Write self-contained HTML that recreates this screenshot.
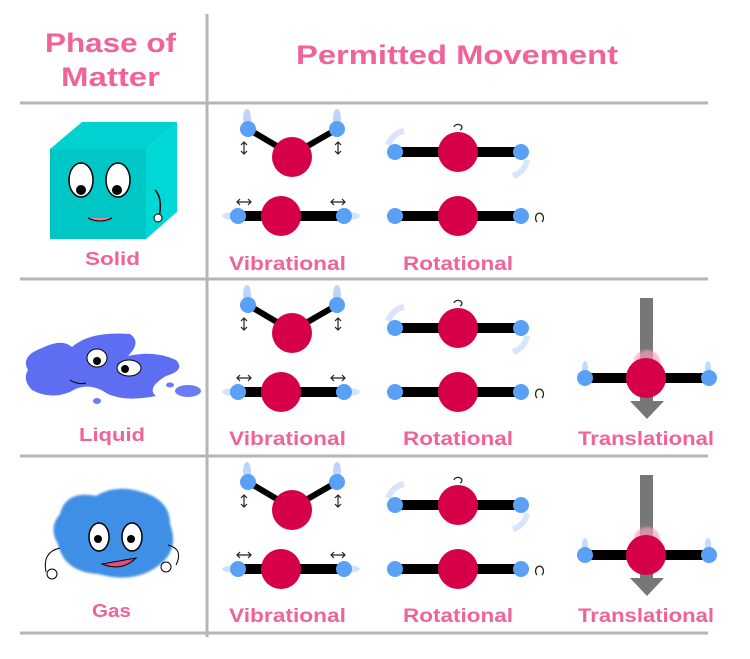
<!DOCTYPE html>
<html><head><meta charset="utf-8"><style>
html,body{margin:0;padding:0;background:#fff}
svg{display:block}
text{font-family:"Liberation Sans",sans-serif;fill:#f0639a;font-weight:bold}
</style></head><body>
<svg width="750" height="659" viewBox="0 0 750 659" xmlns="http://www.w3.org/2000/svg">
<defs>
<filter id="bl" x="-20%" y="-20%" width="140%" height="140%"><feGaussianBlur stdDeviation="1"/></filter>
<g id="bent">
  <line x1="248" y1="129" x2="292" y2="155" stroke="#000" stroke-width="6"/>
  <line x1="337" y1="129" x2="292" y2="155" stroke="#000" stroke-width="6"/>
  <ellipse cx="247" cy="118" rx="4" ry="9" fill="#bcd6fb"/>
  <ellipse cx="337" cy="118" rx="4" ry="9" fill="#bcd6fb"/>
  <circle cx="292" cy="157" r="20" fill="#d50048"/>
  <circle cx="248" cy="129" r="8" fill="#5aa0f5"/>
  <circle cx="337" cy="129" r="8" fill="#5aa0f5"/>
  <path d="M244 142 v12 M241 145 l3 -3 l3 3 M241 151 l3 3 l3 -3" stroke="#222" stroke-width="1.2" fill="none"/>
  <path d="M338 142 v12 M335 145 l3 -3 l3 3 M335 151 l3 3 l3 -3" stroke="#222" stroke-width="1.2" fill="none"/>
</g>
<g id="lin">
  <ellipse cx="236" cy="216" rx="14" ry="4" fill="#d2e4fc"/>
  <ellipse cx="346" cy="216" rx="14" ry="4" fill="#d2e4fc"/>
  <line x1="238" y1="216" x2="343" y2="216" stroke="#000" stroke-width="10"/>
  <circle cx="281" cy="216" r="20" fill="#d50048"/>
  <circle cx="238" cy="216" r="8" fill="#5aa0f5"/>
  <circle cx="344" cy="216" r="8" fill="#5aa0f5"/>
  <path d="M237 202 h14 M240 199 l-3 3 l3 3 M248 199 l3 3 l-3 3" stroke="#222" stroke-width="1.2" fill="none"/>
  <path d="M331 202 h14 M334 199 l-3 3 l3 3 M342 199 l3 3 l-3 3" stroke="#222" stroke-width="1.2" fill="none"/>
</g>
<g id="rot">
  <path d="M388 145 q5 -12 16 -14" stroke="#d8e6fb" stroke-width="6" fill="none"/>
  <path d="M527 160 q-2 12 -14 16" stroke="#d8e6fb" stroke-width="6" fill="none"/>
  <line x1="395" y1="152" x2="521" y2="152" stroke="#000" stroke-width="10"/>
  <circle cx="458" cy="152" r="20" fill="#d50048"/>
  <circle cx="395" cy="152" r="8" fill="#5aa0f5"/>
  <circle cx="521" cy="152" r="8" fill="#5aa0f5"/>
  <path d="M454 127 a4 3 0 1 1 6 3" stroke="#222" stroke-width="1.2" fill="none"/>
  <line x1="395" y1="216" x2="521" y2="216" stroke="#000" stroke-width="10"/>
  <circle cx="458" cy="216" r="20" fill="#d50048"/>
  <circle cx="395" cy="216" r="8" fill="#5aa0f5"/>
  <circle cx="521" cy="216" r="8" fill="#5aa0f5"/>
  <path d="M537 222 a4 5 0 1 1 5 0" stroke="#222" stroke-width="1.3" fill="none"/>
</g>
<g id="trans">
  <rect x="640" y="298" width="13" height="104" fill="#777"/>
  <polygon points="630,401 664,401 647,419" fill="#777"/>
  <ellipse cx="647" cy="362" rx="13" ry="12" fill="#f3a0bd" opacity="0.7" filter="url(#bl)"/>
  <ellipse cx="585" cy="368" rx="3" ry="7" fill="#c4dbfb"/>
  <ellipse cx="708" cy="368" rx="3" ry="7" fill="#c4dbfb"/>
  <line x1="585" y1="378" x2="709" y2="378" stroke="#000" stroke-width="10"/>
  <circle cx="646" cy="378" r="20" fill="#d50048"/>
  <circle cx="585" cy="378" r="8" fill="#5aa0f5"/>
  <circle cx="709" cy="378" r="8" fill="#5aa0f5"/>
</g>
</defs>

<g stroke="#aaa" stroke-width="3" opacity="0.85">
  <line x1="207" y1="14" x2="207" y2="637"/>
  <line x1="20" y1="103" x2="708" y2="103"/>
  <line x1="20" y1="279" x2="708" y2="279"/>
  <line x1="20" y1="456" x2="708" y2="456"/>
  <line x1="20" y1="633" x2="708" y2="633"/>
</g>

<text x="45" y="52" font-size="27" textLength="131" lengthAdjust="spacingAndGlyphs">Phase of</text>
<text x="61" y="86" font-size="27" textLength="99" lengthAdjust="spacingAndGlyphs">Matter</text>
<text x="296" y="64" font-size="27" textLength="322" lengthAdjust="spacingAndGlyphs">Permitted Movement</text>

<polygon points="50,149 82,122 177,122 146,149" fill="#00d2d2"/>
<polygon points="146,149 177,122 177,212 146,239" fill="#00d8d8"/>
<rect x="50" y="149" width="96" height="90" fill="#00c6c6"/>
<ellipse cx="81" cy="180" rx="12" ry="17" fill="#fff" stroke="#000" stroke-width="1.5"/>
<ellipse cx="118" cy="180" rx="12" ry="17" fill="#fff" stroke="#000" stroke-width="1.5"/>
<circle cx="81" cy="190" r="5" fill="#000"/><circle cx="117" cy="190" r="5" fill="#000"/>
<path d="M88 218 q12 6 24 0" stroke="#000" fill="#f07aa0"/>
<path d="M155 190 q8 8 4 28" stroke="#000" stroke-width="1.5" fill="none"/>
<circle cx="158" cy="218" r="4" fill="#fff" stroke="#000"/>
<text x="85" y="265" font-size="18" textLength="55" lengthAdjust="spacingAndGlyphs">Solid</text>

<path d="M28 370 q-8 -14 14 -22 q20 -10 30 -1 q18 -16 58 -13 q12 8 -2 22 q26 -6 48 4 q10 10 -10 16 q-20 12 -10 20 q-30 6 -48 -2 q-20 -14 -38 -2 q-20 8 -38 -2 q-10 -10 -4 -20z" fill="#5e6ef2"/>
<ellipse cx="97" cy="358" rx="10" ry="9" fill="#fff" stroke="#000"/><circle cx="97" cy="361" r="4" fill="#000"/>
<ellipse cx="129" cy="368" rx="12" ry="8" fill="#fff" stroke="#000"/><circle cx="125" cy="369" r="4" fill="#000"/>
<path d="M70 380 q8 5 16 3" stroke="#000" fill="none"/>
<ellipse cx="188" cy="391" rx="13" ry="6" fill="#6b7cf4"/>
<ellipse cx="170" cy="385" rx="4" ry="2.5" fill="#6b7cf4"/>
<ellipse cx="97" cy="401" rx="4" ry="3" fill="#6b7cf4"/>
<text x="79" y="441" font-size="18" textLength="66" lengthAdjust="spacingAndGlyphs">Liquid</text>

<path d="M60 514 q6 -24 36 -18 q20 -12 46 -4 q28 8 28 32 q10 26 -12 42 q-24 18 -60 8 q-34 -2 -40 -30 q-10 -16 2 -30z" fill="#3f8fe6" filter="url(#bl)"/>
<ellipse cx="99" cy="537" rx="10" ry="14" fill="#fff" stroke="#000" stroke-width="1.5"/>
<ellipse cx="132" cy="537" rx="10" ry="14" fill="#fff" stroke="#000" stroke-width="1.5"/>
<circle cx="98" cy="539" r="4" fill="#000"/><circle cx="131" cy="539" r="4" fill="#000"/>
<path d="M102 564 q20 8 34 -6 z" fill="#e84a7a" stroke="#000"/>
<path d="M60 548 q-18 4 -14 24" stroke="#000" fill="none"/><circle cx="52" cy="574" r="5" fill="#fff" stroke="#000"/>
<path d="M168 545 q16 4 8 20" stroke="#000" fill="none"/><circle cx="166" cy="567" r="5" fill="#fff" stroke="#000"/>
<text x="92" y="617" font-size="18" textLength="39" lengthAdjust="spacingAndGlyphs">Gas</text>

<use href="#bent"/><use href="#lin"/><use href="#rot"/>
<g transform="translate(0,176)"><use href="#bent"/><use href="#lin"/><use href="#rot"/></g>
<use href="#trans"/>
<g transform="translate(0,353)"><use href="#bent"/><use href="#lin"/><use href="#rot"/></g>
<g transform="translate(0,177)"><use href="#trans"/></g>

<g font-size="19">
<text x="229" y="270" textLength="117" lengthAdjust="spacingAndGlyphs">Vibrational</text><text x="403" y="270" textLength="110" lengthAdjust="spacingAndGlyphs">Rotational</text>
<text x="229" y="445" textLength="117" lengthAdjust="spacingAndGlyphs">Vibrational</text><text x="403" y="445" textLength="110" lengthAdjust="spacingAndGlyphs">Rotational</text><text x="578" y="445" textLength="136" lengthAdjust="spacingAndGlyphs">Translational</text>
<text x="229" y="622" textLength="117" lengthAdjust="spacingAndGlyphs">Vibrational</text><text x="403" y="622" textLength="110" lengthAdjust="spacingAndGlyphs">Rotational</text><text x="578" y="622" textLength="136" lengthAdjust="spacingAndGlyphs">Translational</text>
</g>
</svg>
</body></html>
